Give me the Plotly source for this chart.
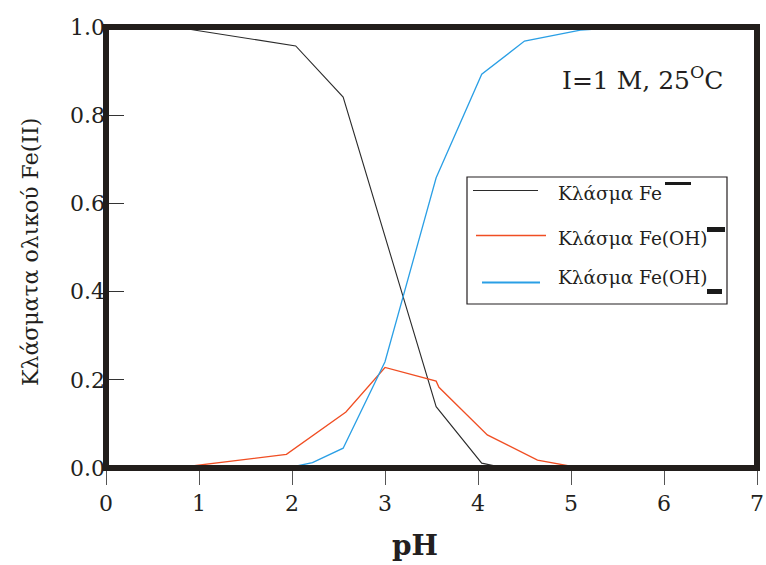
import plotly.graph_objects as go

# ---- data ----
ph_fe = [0.0, 0.75, 0.98, 2.04, 2.55, 3.55, 4.04, 4.29, 7.0]
frac_fe = [1.0, 1.0, 0.992, 0.957, 0.841, 0.139, 0.011, 0.0, 0.0]

ph_feoh = [0.0, 0.75, 1.94, 2.58, 3.00, 3.55, 3.58, 4.10, 4.64, 5.10, 7.0]
frac_feoh = [0.0, 0.0, 0.031, 0.127, 0.228, 0.197, 0.183, 0.075, 0.018, 0.0, 0.0]

ph_feoh2 = [0.0, 1.95, 2.22, 2.55, 3.00, 3.55, 4.04, 4.50, 5.10, 5.60, 7.0]
frac_feoh2 = [0.0, 0.0, 0.012, 0.045, 0.241, 0.658, 0.893, 0.968, 0.993, 1.0, 1.0]

x_ticks = [0, 1, 2, 3, 4, 5, 6, 7]
y_ticks = [0.0, 0.2, 0.4, 0.6, 0.8, 1.0]

legend_names = ["Κλάσμα Fe", "Κλάσμα Fe(OH)", "Κλάσμα Fe(OH)"]
x_title = "pH"
y_title = "Κλάσματα ολικού Fe(II)"
note_text = "I=1 M, 25<sup>O</sup>C"

# ---- styling ----
W, H = 766, 565
L, R, T, B = 106, 9, 27, 97
PW, PH = W - L - R, H - T - B

def px(xpix):
    return (xpix - L) / PW

def py(ypix):
    return (H - B - ypix) / PH

C_FE = "#2b2b2b"
C_FEOH = "#f04e23"
C_FEOH2 = "#2a9fe5"
INK = "#231f20"
SERIF = "DejaVu Serif"

fig = go.Figure()
fig.add_trace(go.Scatter(x=ph_fe, y=frac_fe, mode="lines",
                         line=dict(color=C_FE, width=1.1), name=legend_names[0], showlegend=False))
fig.add_trace(go.Scatter(x=ph_feoh, y=frac_feoh, mode="lines",
                         line=dict(color=C_FEOH, width=1.3), name=legend_names[1], showlegend=False))
fig.add_trace(go.Scatter(x=ph_feoh2, y=frac_feoh2, mode="lines",
                         line=dict(color=C_FEOH2, width=1.3), name=legend_names[2], showlegend=False))

shapes = []
# legend box
shapes.append(dict(type="rect", xref="paper", yref="paper",
                   x0=px(467), x1=px(727), y0=py(304), y1=py(177),
                   line=dict(color=INK, width=1.2), fillcolor="white", layer="above"))
# legend sample lines
leg_lines = [(473, 538, 190.5, C_FE, 1.2), (476, 546, 235.5, C_FEOH, 1.4), (482, 540, 282.5, C_FEOH2, 2.2)]
for x0, x1, yy, c, w in leg_lines:
    shapes.append(dict(type="line", xref="paper", yref="paper",
                       x0=px(x0), x1=px(x1), y0=py(yy), y1=py(yy),
                       line=dict(color=c, width=w), layer="above"))
# charge marks (rendered as black bars in the reference)
bars = [(665, 691, 182, 185), (707, 725, 227, 232), (707, 722, 289, 294)]
for x0, x1, y0, y1 in bars:
    shapes.append(dict(type="rect", xref="paper", yref="paper",
                       x0=px(x0), x1=px(x1), y0=py(y1), y1=py(y0),
                       line=dict(width=0), fillcolor="#1a1a1a", layer="above"))
# heavy frame
shapes.append(dict(type="rect", xref="paper", yref="paper", x0=0, x1=1, y0=0, y1=1,
                   line=dict(color="#221e1b", width=6), layer="above"))

annotations = []
leg_text_y = [193, 238, 277]
for name, yy in zip(legend_names, leg_text_y):
    annotations.append(dict(text=name, xref="paper", yref="paper", x=px(556), y=py(yy),
                            xanchor="left", yanchor="middle", showarrow=False,
                            font=dict(family=SERIF, size=18.5, color=INK)))
annotations.append(dict(text=note_text, xref="paper", yref="paper", x=px(560), y=py(78),
                        xanchor="left", yanchor="middle", showarrow=False,
                        font=dict(family=SERIF, size=25, color=INK)))
annotations.append(dict(text=y_title, xref="paper", yref="paper", x=px(30), y=py(252),
                        xanchor="center", yanchor="middle", textangle=-90, showarrow=False,
                        font=dict(family=SERIF, size=22, color=INK)))
annotations.append(dict(text="<b>" + x_title + "</b>", xref="paper", yref="paper", x=px(415), y=py(564),
                        xanchor="center", yanchor="bottom", showarrow=False,
                        font=dict(family=SERIF, size=28, color=INK)))

fig.update_layout(
    width=W, height=H, autosize=False,
    margin=dict(l=L, r=R, t=T, b=B, pad=0, autoexpand=False),
    paper_bgcolor="white", plot_bgcolor="white",
    showlegend=False,
    shapes=shapes, annotations=annotations,
    xaxis=dict(range=[0, 7], tickvals=x_ticks, ticktext=[str(v) for v in x_ticks],
               automargin=False,
               ticks="outside", ticklen=16, tickwidth=1, tickcolor="#555",
               showgrid=False, zeroline=False, showline=False,
               tickfont=dict(family=SERIF, size=22, color=INK)),
    yaxis=dict(range=[0, 1], tickvals=y_ticks, ticktext=["%.1f" % v for v in y_ticks],
               automargin=False,
               ticks="inside", ticklen=18, tickwidth=1, tickcolor="#333",
               showgrid=False, zeroline=False, showline=False,
               tickfont=dict(family=SERIF, size=22, color=INK)),
)

fig.write_html("out.html",
               config={"displayModeBar": False, "responsive": False},
               post_script="document.body.style.margin='0px';document.body.style.overflow='hidden';")
